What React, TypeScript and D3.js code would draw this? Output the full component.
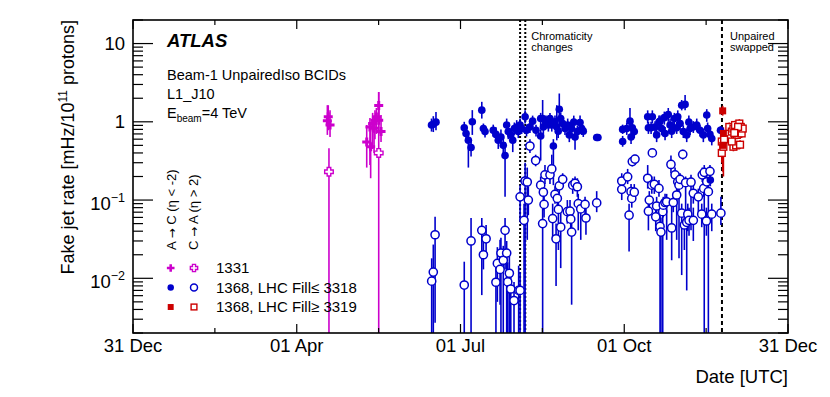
import * as d3 from "d3";

const width = 830;
const height = 397;
const Margin = { top: 20, right: 42, bottom: 64, left: 133 };
const innerRight = width - Margin.right;
const innerBottom = height - Margin.bottom;

const MAGENTA = "#cc00cc";
const BLUE = "#0000cc";
const RED = "#cc0000";
const FONT = "'Liberation Sans', Arial, Helvetica, sans-serif";

// axis range: 31 Dec 2011 .. 31 Dec 2012
const START = Date.UTC(2011, 11, 31);
const END = Date.UTC(2012, 11, 31);

const xTickLabels = ["31 Dec", "01 Apr", "01 Jul", "01 Oct", "31 Dec"];
const yDecades = [0.01, 0.1, 1, 10];
const yDecadeLabels = [["10", "\u22122"], ["10", "\u22121"], ["1", ""], ["10", ""]];

// [day since 31 Dec 2011, rate, low, high]
const run1331AtoC = [
  [108.6, 1.03, 0.68, 1.63], [109.1, 1.16, 0.78, 1.63], [110.1, 0.91, 0.64, 1.41],
  [130.6, 0.55, 0.26, 0.91], [132.8, 0.48, 0.19, 0.86], [132.4, 0.86, 0.28, 1.12],
  [133.9, 0.95, 0.45, 1.3], [134.7, 0.83, 0.4, 1.2], [135.2, 1.05, 0.6, 1.4],
  [136.0, 1.15, 0.7, 1.5], [137.3, 1.05, 0.7, 1.5], [137.3, 1.62, 1.0, 2.4],
  [138.6, 0.75, 0.55, 1.22],
];
const run1331CtoA = [
  [109.5, 0.23, 0.001, 0.46], [137.3, 0.4, 0.001, 2.4],
];

const early1368AtoC = [
  [167.8, 0.93, 0.74, 1.18], [169.3, 0.99, 0.78, 1.33], [166.8, 0.91, 0.75, 1.1],
  [185.1, 0.84, 0.7, 1.0], [186.1, 0.71, 0.6, 0.85], [187.4, 0.58, 0.26, 0.7],
  [188.9, 0.47, 0.36, 0.58], [189.6, 1.0, 0.68, 1.41], [194.9, 1.41, 1.1, 1.8],
  [195.8, 0.82, 0.7, 0.95], [196.7, 0.75, 0.63, 0.88], [201.3, 0.78, 0.65, 0.92],
  [202.8, 0.69, 0.55, 0.85], [204.1, 0.58, 0.45, 0.72], [205.6, 0.64, 0.5, 0.8],
  [206.9, 0.5, 0.38, 0.62], [207.9, 0.37, 0.11, 0.55], [208.8, 0.91, 0.75, 1.1],
  [209.7, 0.75, 0.6, 0.9], [211.1, 0.68, 0.55, 0.82], [212.2, 0.58, 0.41, 0.72],
  [213.1, 0.82, 0.68, 0.98], [214.4, 0.86, 0.7, 1.05], [215.3, 0.75, 0.62, 0.9],
  [216.3, 0.91, 0.75, 1.1], [219.1, 1.16, 0.95, 1.4], [217.2, 0.82, 0.7, 0.98],
  [221.8, 0.86, 0.72, 1.02], [225.2, 0.78, 0.65, 0.92], [227.8, 0.66, 0.32, 0.8],
  [228.9, 1.1, 0.9, 1.9], [229.3, 0.86, 0.7, 1.0], [230.8, 1.02, 0.85, 1.2],
  [232.1, 0.91, 0.75, 1.1], [234.0, 0.91, 0.75, 1.1], [234.9, 0.49, 0.155, 0.6],
  [235.8, 1.0, 0.82, 1.2], [236.8, 0.86, 0.58, 1.63], [238.2, 1.45, 0.91, 2.3],
  [239.0, 1.1, 0.9, 1.3], [240.1, 0.95, 0.8, 1.15], [241.4, 0.82, 0.68, 0.98],
  [243.8, 0.68, 0.55, 0.82], [245.1, 0.82, 0.68, 0.98], [247.0, 0.64, 0.44, 0.78],
  [248.3, 0.75, 0.62, 0.9], [249.8, 0.98, 0.82, 1.2], [250.7, 0.82, 0.68, 0.98],
  [251.6, 0.76, 0.64, 0.9], [259.1, 0.63, 0.57, 0.7], [259.8, 0.63, 0.57, 0.7],
  [273.6, 0.8, 0.7, 0.92], [273.6, 0.56, 0.48, 0.66], [227.8, 1.1, 0.9, 1.3],
  [233.0, 1.1, 0.9, 1.3], [219.9, 0.78, 0.65, 0.92], [223.3, 1.02, 0.85, 1.2],
  [237.6, 0.76, 0.62, 0.9], [246.3, 0.99, 0.82, 1.2], [242.9, 0.91, 0.75, 1.1],
  [275.9, 0.82, 0.68, 0.98], [277.7, 1.02, 0.85, 1.5], [279.0, 0.84, 0.7, 1.0],
  [280.1, 0.75, 0.62, 0.9], [278.3, 0.64, 0.52, 0.78], [287.6, 1.16, 0.95, 1.4],
  [288.0, 0.84, 0.7, 1.0], [289.5, 0.84, 0.7, 1.0], [290.2, 1.16, 0.95, 1.4],
  [291.7, 0.86, 0.72, 1.02], [292.6, 0.68, 0.55, 0.82], [294.5, 1.02, 0.85, 1.2],
  [295.4, 0.82, 0.68, 0.98], [296.9, 1.13, 0.92, 1.35], [297.3, 0.71, 0.58, 0.86],
  [299.1, 1.24, 1.0, 1.5], [300.1, 0.91, 0.75, 1.1], [301.0, 0.76, 0.62, 0.9],
  [302.5, 1.1, 0.9, 1.3], [303.8, 0.84, 0.7, 1.0], [304.4, 1.16, 0.95, 1.4],
  [305.7, 0.95, 0.8, 1.15], [306.6, 1.63, 1.4, 1.9], [308.5, 1.67, 1.4, 2.2],
  [307.5, 0.75, 0.62, 0.9], [309.4, 0.68, 0.55, 0.82], [311.3, 0.82, 0.68, 0.98],
  [313.1, 0.86, 0.72, 1.02], [315.0, 0.91, 0.75, 1.1], [316.8, 0.78, 0.65, 0.92],
  [318.7, 0.68, 0.55, 0.82], [320.6, 1.22, 1.0, 1.45], [321.1, 0.82, 0.68, 0.98],
  [322.4, 0.69, 0.58, 0.82], [323.4, 0.61, 0.5, 0.72], [322.6, 0.18, 0.15, 0.21],
  [328.3, 0.78, 0.7, 0.88], [293.9, 0.99, 0.82, 1.2], [301.8, 0.83, 0.7, 1.0],
  [310.6, 0.99, 0.82, 1.2],
];

const early1368CtoA = [
  [166.9, 0.0092, 0.001, 0.018], [167.8, 0.012, 0.001, 0.027], [168.8, 0.036, 0.0027, 0.061],
  [185.1, 0.0082, 0.001, 0.0163], [188.9, 0.03, 0.001, 0.059], [194.9, 0.041, 0.0061, 0.059],
  [195.8, 0.02, 0.013, 0.03], [197.3, 0.032, 0.02, 0.048], [202.8, 0.0089, 0.001, 0.015],
  [203.6, 0.0155, 0.005, 0.025], [205.1, 0.013, 0.0046, 0.031], [205.6, 0.021, 0.001, 0.033],
  [206.9, 0.017, 0.001, 0.026], [207.9, 0.041, 0.013, 0.059], [208.8, 0.021, 0.001, 0.03],
  [209.4, 0.009, 0.001, 0.016], [210.3, 0.0116, 0.001, 0.02], [211.1, 0.0073, 0.001, 0.013],
  [212.9, 0.0052, 0.001, 0.009], [215.5, 0.007, 0.001, 0.0145], [216.3, 0.11, 0.055, 0.155],
  [218.5, 0.055, 0.001, 0.09], [219.1, 0.175, 0.001, 0.3], [220.3, 0.17, 0.031, 0.26],
  [220.9, 0.1, 0.064, 0.15], [221.8, 0.49, 0.4, 0.6], [216.3, 0.007, 0.001, 0.012],
  [225.0, 0.32, 0.27, 0.38], [230.2, 0.21, 0.16, 0.28], [233.0, 0.21, 0.16, 0.27],
  [234.0, 0.25, 0.2, 0.38], [227.8, 0.155, 0.12, 0.2], [229.3, 0.126, 0.074, 0.16],
  [229.7, 0.088, 0.06, 0.12], [228.9, 0.05, 0.001, 0.08], [235.8, 0.118, 0.09, 0.15],
  [237.1, 0.105, 0.08, 0.14], [238.2, 0.152, 0.12, 0.19], [240.1, 0.184, 0.15, 0.22],
  [237.7, 0.076, 0.023, 0.1], [234.5, 0.058, 0.031, 0.09], [236.4, 0.032, 0.008, 0.05],
  [239.0, 0.045, 0.0135, 0.07], [242.7, 0.071, 0.05, 0.1], [244.2, 0.072, 0.05, 0.1],
  [244.6, 0.057, 0.035, 0.08], [245.1, 0.039, 0.0046, 0.06], [245.7, 0.155, 0.12, 0.19],
  [247.0, 0.164, 0.13, 0.2], [248.3, 0.148, 0.11, 0.19], [248.8, 0.09, 0.041, 0.12],
  [250.2, 0.077, 0.031, 0.1], [252.6, 0.088, 0.065, 0.11], [253.1, 0.059, 0.036, 0.08],
  [259.1, 0.092, 0.07, 0.13], [273.1, 0.175, 0.14, 0.22], [273.1, 0.137, 0.1, 0.17],
  [276.4, 0.198, 0.16, 0.25], [277.2, 0.064, 0.022, 0.09], [278.3, 0.128, 0.1, 0.16],
  [278.7, 0.105, 0.08, 0.13], [280.1, 0.126, 0.1, 0.16], [279.0, 0.31, 0.27, 0.36],
  [280.5, 0.334, 0.29, 0.38], [290.2, 0.4, 0.36, 0.45], [287.6, 0.19, 0.14, 0.28],
  [288.0, 0.072, 0.041, 0.1], [288.5, 0.1, 0.075, 0.13], [289.9, 0.155, 0.12, 0.2],
  [291.3, 0.159, 0.12, 0.2], [292.6, 0.084, 0.06, 0.11], [292.1, 0.061, 0.04, 0.085],
  [293.9, 0.141, 0.11, 0.18], [294.5, 0.046, 0.001, 0.07], [295.0, 0.039, 0.001, 0.06],
  [296.0, 0.071, 0.001, 0.1], [296.3, 0.086, 0.06, 0.11], [297.3, 0.093, 0.07, 0.12],
  [298.2, 0.095, 0.031, 0.12], [300.6, 0.285, 0.22, 0.37], [301.0, 0.044, 0.017, 0.086],
  [301.9, 0.093, 0.07, 0.12], [302.9, 0.21, 0.17, 0.26], [303.8, 0.116, 0.031, 0.15],
  [304.4, 0.171, 0.13, 0.22], [305.1, 0.155, 0.018, 0.2], [305.7, 0.184, 0.15, 0.22],
  [306.6, 0.068, 0.011, 0.09], [307.2, 0.384, 0.33, 0.44], [308.1, 0.048, 0.023, 0.07],
  [308.8, 0.167, 0.055, 0.2], [309.4, 0.052, 0.007, 0.075], [310.0, 0.066, 0.04, 0.09],
  [310.7, 0.055, 0.035, 0.08], [311.8, 0.169, 0.041, 0.21], [313.1, 0.055, 0.03, 0.08],
  [313.1, 0.122, 0.09, 0.16], [315.9, 0.11, 0.07, 0.14], [317.8, 0.066, 0.045, 0.09],
  [318.1, 0.21, 0.17, 0.26], [318.9, 0.141, 0.11, 0.18], [319.2, 0.226, 0.001, 0.28],
  [320.4, 0.054, 0.035, 0.08], [320.6, 0.171, 0.13, 0.22], [321.5, 0.128, 0.001, 0.16],
  [322.4, 0.233, 0.19, 0.28], [323.4, 0.066, 0.04, 0.09], [328.5, 0.068, 0.048, 0.11],
];

const late1368AtoC = [
  [329.5, 1.38, 1.2, 1.6], [329.9, 0.71, 0.2, 0.85], [329.5, 0.5, 0.23, 0.65],
];
const late1368CtoA = [
  [329.0, 0.4, 0.3, 0.5], [329.9, 0.48, 0.4, 0.58], [333.2, 0.86, 0.75, 0.98],
  [334.6, 0.75, 0.65, 0.86], [335.5, 0.82, 0.72, 0.94], [336.4, 0.91, 0.8, 1.03],
  [337.4, 0.68, 0.6, 0.78], [338.3, 0.75, 0.65, 0.86], [338.8, 0.95, 0.84, 1.08],
  [339.6, 0.86, 0.75, 0.98], [340.1, 0.71, 0.62, 0.82], [340.7, 0.82, 0.72, 0.94],
  [335.5, 0.48, 0.42, 0.55], [337.0, 0.5, 0.44, 0.57], [339.2, 0.51, 0.45, 0.58],
  [334.6, 0.56, 0.49, 0.64], [329.0, 0.56, 0.48, 0.66], [330.3, 0.6, 0.52, 0.7],
  [338.1, 0.86, 0.76, 0.97], [336.0, 0.72, 0.63, 0.82],
];

// vertical markers (days)
const chromaticityDays = [216.3, 219.2];
const swapDay = 329.1;

const legendRows = ["1368, LHC Fill\u2264 3318", "1368, LHC Fill\u2265 3319"];
const legendFirst = "1331";

const toDate = (d: number) => new Date(START + d * 864e5);

const xScale = d3.scaleUtc().domain([new Date(START), new Date(END)]).range([Margin.left, innerRight]);
const yScale = d3.scaleLog().domain([0.002, 20]).range([innerBottom, Margin.top]);

function crossPoints(L: number, w: number) {
  return [
    [-w, -L], [w, -L], [w, -w], [L, -w], [L, w], [w, w],
    [w, L], [-w, L], [-w, w], [-L, w], [-L, -w], [-w, -w],
  ].map((p) => p.join(",")).join(" ");
}

function Marker({ kind, x, y, color, s = 1 }: { kind: string; x: number; y: number; color: string; s?: number }) {
  if (kind === "dot") return <circle cx={x} cy={y} r={3.8 * s} fill={color} />;
  if (kind === "ring") return <circle cx={x} cy={y} r={4.1 * s} fill="white" stroke={color} strokeWidth={1.5} />;
  if (kind === "square") return <rect x={x - 3.5 * s} y={y - 3.5 * s} width={7 * s} height={7 * s} fill={color} />;
  if (kind === "openSquare")
    return <rect x={x - 3.4 * s} y={y - 3.4 * s} width={6.8 * s} height={6.8 * s} fill="white" stroke={color} strokeWidth={1.4} />;
  if (kind === "plus")
    return <polygon transform={`translate(${x},${y})`} points={crossPoints(4.5 * s, 1.5 * s)} fill={color} />;
  return (
    <polygon transform={`translate(${x},${y})`} points={crossPoints(4.3 * s, 1.8 * s)} fill="white" stroke={color} strokeWidth={1.4} />
  );
}

const series = [
  { data: run1331AtoC, kind: "plus", color: MAGENTA },
  { data: run1331CtoA, kind: "openPlus", color: MAGENTA },
  { data: early1368CtoA, kind: "ring", color: BLUE },
  { data: early1368AtoC, kind: "dot", color: BLUE },
  { data: late1368CtoA, kind: "openSquare", color: RED },
  { data: late1368AtoC, kind: "square", color: RED },
];

function App() {
  const yMin = yScale.domain()[0];
  // ticks at equal eighths of the axis (ROOT time axis)
  const span = END - START;
  const xTicks = d3.range(0, 9).map((i) => new Date(START + (span * i) / 8));

  const minorY: number[] = [];
  [0.001, 0.01, 0.1, 1, 10].forEach((dec) => {
    for (let k = 2; k <= 9; k++) {
      const v = dec * k;
      if (v >= yMin && v <= 20) minorY.push(v);
    }
  });

  const errorBars = series.map((s, si) =>
    s.data.map((d, i) => (
      <line
        key={`e${si}-${i}`}
        x1={xScale(toDate(d[0]))}
        x2={xScale(toDate(d[0]))}
        y1={yScale(Math.max(d[2], yMin))}
        y2={yScale(d[3])}
        stroke={s.color}
        strokeWidth={1.6}
      />
    ))
  );
  const markers = series.map((s, si) =>
    s.data.map((d, i) => (
      <Marker key={`m${si}-${i}`} kind={s.kind} x={xScale(toDate(d[0]))} y={yScale(d[1])} color={s.color} />
    ))
  );

  const legendKinds = [["plus", "openPlus"], ["dot", "ring"], ["square", "openSquare"]];
  const legendColors = [MAGENTA, BLUE, RED];
  const legendLabels = [legendFirst, ...legendRows];
  const arrow = <tspan fontFamily="'DejaVu Sans'" fontSize={12}>{"\u2192"}</tspan>;

  return (
    <>
      <style>{"body{margin:0}"}</style>
      <svg width={width} height={height} style={{ display: "block", fontFamily: FONT }}>
        <rect width={width} height={height} fill="white" />

        {/* vertical reference lines */}
        {chromaticityDays.map((d, i) => (
          <line key={`c${i}`} x1={xScale(toDate(d))} x2={xScale(toDate(d))} y1={Margin.top} y2={innerBottom}
            stroke="#000" strokeWidth={2} strokeDasharray="2 2" />
        ))}
        <line x1={xScale(toDate(swapDay))} x2={xScale(toDate(swapDay))} y1={Margin.top} y2={innerBottom}
          stroke="#000" strokeWidth={2} strokeDasharray="4 3" />
        <text x={xScale(toDate(chromaticityDays[1])) + 6} y={39.5} fontSize={11} fill="#000">Chromaticity</text>
        <text x={xScale(toDate(chromaticityDays[1])) + 6} y={51} fontSize={11} fill="#000">changes</text>
        <text x={xScale(toDate(swapDay)) + 8} y={39.5} fontSize={11} fill="#000">Unpaired</text>
        <text x={xScale(toDate(swapDay)) + 8} y={51} fontSize={11} fill="#000">swapped</text>

        {errorBars}
        {markers}

        {/* frame */}
        <rect x={Margin.left} y={Margin.top} width={innerRight - Margin.left} height={innerBottom - Margin.top}
          fill="none" stroke="#000" strokeWidth={1.6} />

        {/* x ticks */}
        {xTicks.map((t, i) => {
          const x = xScale(t);
          const len = i % 2 === 0 ? 9 : 5;
          return (
            <g key={`xt${i}`}>
              <line x1={x} x2={x} y1={innerBottom} y2={innerBottom - len} stroke="#000" strokeWidth={1.2} />
              <line x1={x} x2={x} y1={Margin.top} y2={Margin.top + len} stroke="#000" strokeWidth={1.2} />
            </g>
          );
        })}
        {xTickLabels.map((lab, i) => (
          <text key={`xl${i}`} x={xScale(xTicks[i * 2])} y={352} textAnchor="middle" fontSize={18.5} fill="#000">
            {lab}
          </text>
        ))}

        {/* y ticks */}
        {yDecades.map((v, i) => (
          <g key={`yd${i}`}>
            <line x1={Margin.left} x2={Margin.left + 20} y1={yScale(v)} y2={yScale(v)} stroke="#000" strokeWidth={1.2} />
            <line x1={innerRight} x2={innerRight - 20} y1={yScale(v)} y2={yScale(v)} stroke="#000" strokeWidth={1.2} />
            <text x={125} y={yScale(v) + (yDecadeLabels[i][1] ? 10 : 6.5)} textAnchor="end" fontSize={18.5} fill="#000">
              {yDecadeLabels[i][0]}
              {yDecadeLabels[i][1] && (
                <tspan dy={-8} fontSize={12.5}>{yDecadeLabels[i][1]}</tspan>
              )}
            </text>
          </g>
        ))}
        {minorY.map((v, i) => (
          <g key={`ym${i}`}>
            <line x1={Margin.left} x2={Margin.left + 10} y1={yScale(v)} y2={yScale(v)} stroke="#000" strokeWidth={1.2} />
            <line x1={innerRight} x2={innerRight - 10} y1={yScale(v)} y2={yScale(v)} stroke="#000" strokeWidth={1.2} />
          </g>
        ))}

        {/* axis titles */}
        <text transform="translate(73.5,20) rotate(-90)" textAnchor="end" fontSize={18} fill="#000">
          Fake jet rate [mHz/10<tspan dy={-7} fontSize={12}>11</tspan><tspan dy={7}> protons]</tspan>
        </text>
        <text x={innerRight} y={383} textAnchor="end" fontSize={18.5} fill="#000">Date [UTC]</text>

        {/* labels */}
        <text x={167} y={46.5} fontSize={18.5} fontWeight="bold" fontStyle="italic" fill="#000">ATLAS</text>
        <text x={167} y={80} fontSize={14.5} fill="#000">Beam-1 UnpairedIso BCIDs</text>
        <text x={167} y={99} fontSize={14.5} fill="#000">L1_J10</text>
        <text x={167} y={118} fontSize={14.5} fill="#000">
          E<tspan dy={4} fontSize={10}>beam</tspan><tspan dy={-4}>=4 TeV</tspan>
        </text>

        {/* legend */}
        <text transform="translate(175.5,250) rotate(-90)" fontSize={13} fill="#000">
          A {arrow} C ({"\u03b7"} {"<"} -2)
        </text>
        <text transform="translate(198,250) rotate(-90)" fontSize={13} fill="#000">
          C {arrow} A ({"\u03b7"} {">"} 2)
        </text>
        {legendLabels.map((lab, i) => {
          const y = 268 + i * 19.5;
          return (
            <g key={`lg${i}`}>
              <Marker kind={legendKinds[i][0]} x={170.7} y={y} color={legendColors[i]} s={0.85} />
              <Marker kind={legendKinds[i][1]} x={194} y={y} color={legendColors[i]} s={0.85} />
              <text x={216} y={y + 5.3} fontSize={15} fill="#000">{lab}</text>
            </g>
          );
        })}
      </svg>
    </>
  );
}

export default App;
